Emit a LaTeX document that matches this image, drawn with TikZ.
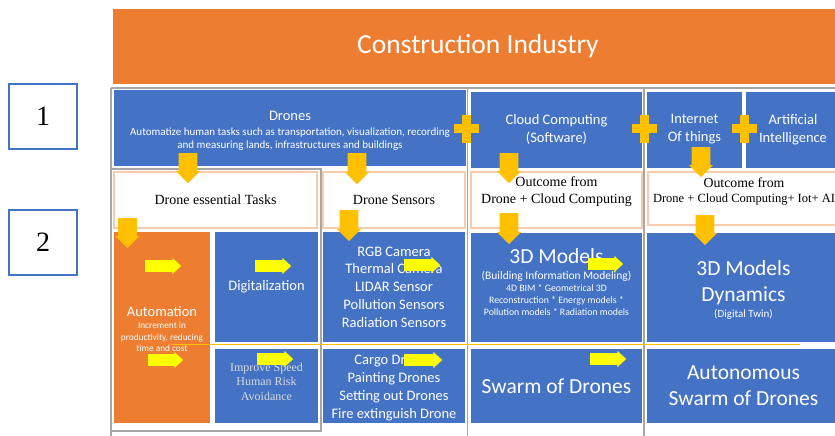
\documentclass[tikz,border=0pt]{standalone}
\usepackage{fontspec}
\setmainfont{Carlito}
\newfontfamily\timesfont{Liberation Serif}
\usepackage{tikz}
\usetikzlibrary{shapes.arrows}
\definecolor{boxblue}{HTML}{4472C4}
\definecolor{boxorange}{HTML}{ED7D31}
\definecolor{arrowgold}{HTML}{FFC000}
\definecolor{arrowyellow}{HTML}{FFFF00}
\definecolor{framegray}{HTML}{A6A6A6}
\definecolor{peach}{HTML}{F8CBAD}
\newcommand\txtsize[2]{\fontsize{#1}{#2}\selectfont}
\tikzset{
    bluebox/.style={rectangle, fill=boxblue, text=white, align=center, inner sep=0pt},
    orangebox/.style={rectangle, fill=boxorange, text=white, align=center, inner sep=0pt},
    outcomebox/.style={rectangle, draw=peach, line width=1.2pt, fill=white, inner sep=0pt, minimum height=56pt, font=\timesfont\txtsize{14}{17}},
    numbox/.style={rectangle, draw=boxblue, line width=1.5pt, minimum width=68pt, minimum height=65pt, font=\timesfont\txtsize{28}{30}},
    frameline/.style={draw=framegray, line width=1.3pt},
    goldarrow/.style={single arrow, fill=arrowgold, inner sep=7pt, minimum width=24pt, minimum height=30pt,
        single arrow head extend=2pt, single arrow tip angle=90, rotate=-90, anchor=tail},
    yellowarrow/.style={single arrow, fill=arrowyellow, inner sep=5pt, minimum width=16pt, minimum height=36pt,
        single arrow head extend=2pt, single arrow tip angle=85, anchor=tail},
    plusbar/.style={rectangle, fill=arrowgold, inner sep=0pt}
}

\begin{document}
\begin{tikzpicture}[x=1pt, y=-1pt]
    \useasboundingbox (0,0) rectangle (835,436);

    % title and row numbers
    \node[orangebox, minimum width=730pt, minimum height=75pt, font=\txtsize{27.5}{30}] (industry) at (478,46.5) {Construction Industry};
    \node[numbox] (one) at (43,116.5) {1};
    \node[numbox] (two) at (43,242.5) {2};

    % gray frames
    \draw[frameline] (111,88) -- (835,88);
    \draw[frameline] (111,88) -- (111,436);
    \draw[frameline] (467.5,88) -- (467.5,436);
    \draw[frameline] (644,88) -- (644,436);
    \draw[frameline] (111,169) rectangle (321,431);

    % technologies
    \node[bluebox, minimum width=352pt, minimum height=76pt] (drones) at (290,128) {};
    \node[align=center, text=white, font=\txtsize{11}{13}] (dronestext) at (290,131)
        {\txtsize{14.5}{16}Drones\\[1.7pt]
         Automatize human tasks such as transportation, visualization, recording\\
         and measuring lands, infrastructures and buildings};
    \node[bluebox, minimum width=171pt, minimum height=76pt, font=\txtsize{14.5}{18}] (cloud) at (556.5,129.5) {Cloud Computing\\(Software)};
    \node[bluebox, minimum width=95pt, minimum height=76pt, font=\txtsize{14.5}{18}] (iot) at (694.5,129.5) {Internet\\Of things};
    \node[bluebox, minimum width=94pt, minimum height=76pt, font=\txtsize{14.5}{18}] (ai) at (793,129.5) {Artificial\\Intelligence};

    % outcomes
    \node[outcomebox, minimum width=203pt] (tasks) at (215.5,200) {Drone essential Tasks};
    \node[outcomebox, minimum width=142pt] (sensors) at (394,200) {Drone Sensors};
    \node[outcomebox, minimum width=171pt] (outcloud) at (556.5,200) {};
    \node[align=center, font=\timesfont\txtsize{14}{17}] (outcloudtext) at (556.5,191.5) {Outcome from\\Drone + Cloud Computing};
    \node[outcomebox, minimum width=192pt, minimum height=53pt] (outall) at (744,198.5) {};
    \node[align=center, font=\timesfont\txtsize{13.8}{15}] (outalltext) at (744,191)
        {Outcome from\\\txtsize{12.5}{14}Drone + Cloud Computing+ Iot+ AI};

    % results
    \node[orangebox, minimum width=96pt, minimum height=191pt] (automation) at (162,327.5) {};
    \node[align=center, text=white, font=\txtsize{9.3}{11.5}] (automationtext) at (162,329)
        {\txtsize{14.5}{16}Automation\\[0.8pt]Increment in\\productivity, reducing\\time and cost};
    \node[bluebox, minimum width=103pt, minimum height=110pt, font=\txtsize{14.5}{17}] (digital) at (266.5,287) {Digitalization};
    \node[bluebox, minimum width=103pt, minimum height=74pt] (speed) at (266.5,386) {};
    \node[align=center, text=black!15, font=\timesfont\txtsize{12}{14.5}] (speedtext) at (266.5,381.5) {Improve Speed\\Human Risk\\Avoidance};
    \node[bluebox, minimum width=142pt, minimum height=110pt, font=\txtsize{14.5}{17.7}] (sensorlist) at (394,287)
        {RGB Camera\\Thermal Camera\\LIDAR Sensor\\Pollution Sensors\\Radiation Sensors};
    \node[bluebox, minimum width=142pt, minimum height=74pt] (cargo) at (394,386) {};
    \node[align=center, text=white, font=\txtsize{14.5}{18}] (cargotext) at (394,388)
        {Cargo Drones\\Painting Drones\\Setting out Drones\\Fire extinguish Drone};
    \node[bluebox, minimum width=171pt, minimum height=109pt] (models) at (556.5,287.5) {};
    \node[align=center, text=white, font=\txtsize{9.8}{12}] (modelstext) at (556.5,282)
        {\txtsize{21.5}{24}3D Models\\[3.6pt]
         \txtsize{11.5}{13}(Building Information Modeling)\\[0.4pt]
         4D BIM * Geometrical 3D\\Reconstruction * Energy models *\\Pollution models * Radiation models};
    \node[bluebox, minimum width=193pt, minimum height=109pt] (dynamics) at (743.5,287.5) {};
    \node[align=center, text=white, font=\txtsize{21.5}{26}] (dynamicstext) at (743.5,290)
        {3D Models\\Dynamics\\[-10.7pt]\txtsize{11}{12}(Digital Twin)};
    \node[bluebox, minimum width=171pt, minimum height=74pt, font=\txtsize{21.5}{26}] (swarm) at (556.5,386) {Swarm of Drones};
    \node[bluebox, minimum width=193pt, minimum height=74pt, font=\txtsize{21.5}{26}] (autonomous) at (743.5,386) {Autonomous\\Swarm of Drones};

    % plus signs
    \node[plusbar, minimum width=25pt, minimum height=8.5pt] (plusAh) at (466.5,128.5) {};
    \node[plusbar, minimum width=8.5pt, minimum height=28pt] (plusAv) at (466.5,128.5) {};
    \node[plusbar, minimum width=25pt, minimum height=8.5pt] (plusBh) at (644.5,128.5) {};
    \node[plusbar, minimum width=8.5pt, minimum height=28pt] (plusBv) at (644.5,128.5) {};
    \node[plusbar, minimum width=25pt, minimum height=8.5pt] (plusCh) at (744.5,128.5) {};
    \node[plusbar, minimum width=8.5pt, minimum height=28pt] (plusCv) at (744.5,128.5) {};

    % gold arrows down
    \node[goldarrow] (tasksdown) at (188,153) {};
    \node[goldarrow, minimum height=31pt] (sensorsdown) at (357,153) {};
    \node[goldarrow] (clouddown) at (509,153) {};
    \node[goldarrow] (iotdown) at (701,147) {};
    \node[goldarrow] (automationdown) at (127.5,218) {};
    \node[goldarrow, minimum height=31pt] (listdown) at (349,210) {};
    \node[goldarrow, minimum height=31pt] (modelsdown) at (509,213) {};
    \node[goldarrow] (dynamicsdown) at (705,215) {};

    % thin line between the two result rows
    \draw[arrowgold, line width=1pt] (171,344) -- (800,344);

    % yellow arrows right
    \node[yellowarrow] (automationright) at (145,266) {};
    \node[yellowarrow, minimum height=35pt] (costright) at (148,360) {};
    \node[yellowarrow] (digitalright) at (255,266) {};
    \node[yellowarrow] (speedright) at (257,359) {};
    \node[yellowarrow] (cameraright) at (404,265) {};
    \node[yellowarrow, minimum height=38pt] (cargoright) at (404,360) {};
    \node[yellowarrow, minimum height=35pt] (modelsright) at (588,264) {};
    \node[yellowarrow] (swarmright) at (590,359) {};

\end{tikzpicture}
\end{document}
